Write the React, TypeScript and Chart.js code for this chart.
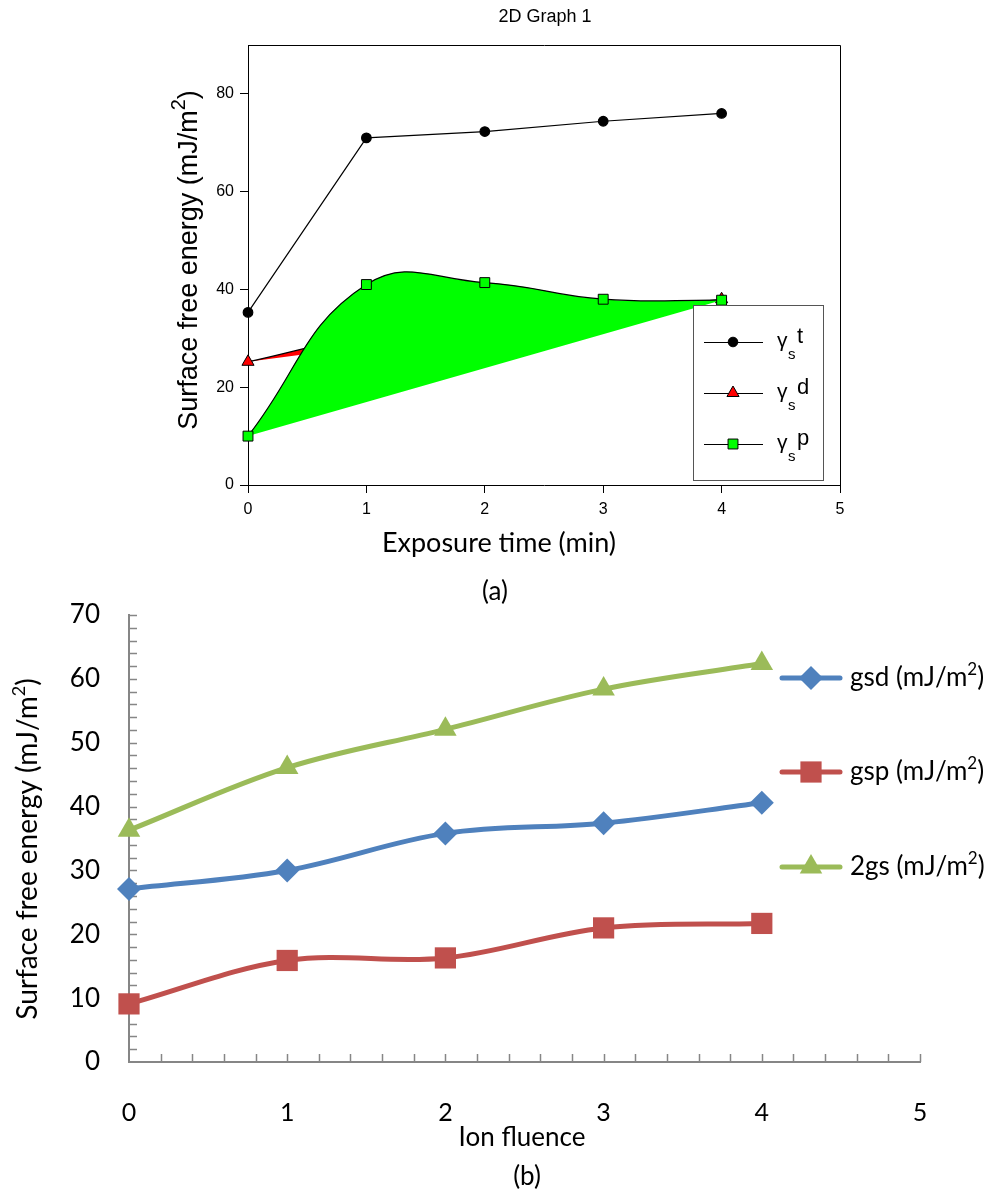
import React, { useEffect, useRef } from 'react';
import { Chart, registerables } from 'chart.js';

Chart.register(...registerables);

// ---------- Chart (a) data ----------
const aTitle = '2D Graph 1';
const aXTitle = 'Exposure time (min)';
const aYTitle = 'Surface free energy (mJ/m';
const aPanel = '(a)';
const timeMin = [0, 1, 2, 3, 4];
const gammaT = [35.3, 71.0, 72.3, 74.4, 76.0];
const gammaD = [25.2, 30.5, 33.0, 35.5, 38.0];
const gammaP = [10.0, 41.0, 41.4, 38.0, 37.8];
const aXTicks = [0, 1, 2, 3, 4, 5];
const aYTicks = [0, 20, 40, 60, 80];
const aLegendSup = ['t', 'd', 'p'];

// ---------- Chart (b) data ----------
const bXTitle = 'Ion fluence';
const bYTitle = 'Surface free energy (mJ/m';
const bPanel = '(b)';
const fluence = [0, 1, 2, 3, 4];
const gsd = [27.1, 30.0, 35.8, 37.4, 40.6];
const gsp = [9.1, 15.9, 16.3, 21.0, 21.7];
const gs2 = [36.3, 46.1, 52.1, 58.4, 62.4];
const bSeriesNames = ['gsd', 'gsp', '2gs'];
const bXTicks = [0, 1, 2, 3, 4, 5];
const bYTicks = [0, 10, 20, 30, 40, 50, 60, 70];
const bXMinorStep = 0.2;
const bYMinorStep = 2;

const toPts = (xs: number[], ys: number[]) => xs.map((x, i) => ({ x, y: ys[i] }));
const chord = (xs: number[], ys: number[]) => [
  { x: xs[0], y: ys[0] },
  { x: xs[xs.length - 1], y: ys[ys.length - 1] },
];

type Seg = { t: string; font: string; dy?: number };
function drawRich(
  ctx: CanvasRenderingContext2D,
  segs: Seg[],
  x: number,
  y: number,
  align: 'left' | 'center',
  rotate = 0,
  color = '#000'
) {
  ctx.save();
  ctx.translate(x, y);
  if (rotate) ctx.rotate(rotate);
  ctx.textBaseline = 'alphabetic';
  ctx.textAlign = 'left';
  ctx.fillStyle = color;
  let total = 0;
  const widths = segs.map((s) => {
    ctx.font = s.font;
    const w = ctx.measureText(s.t).width;
    total += w;
    return w;
  });
  let cx = align === 'center' ? -total / 2 : 0;
  segs.forEach((s, i) => {
    ctx.font = s.font;
    ctx.fillText(s.t, cx, s.dy || 0);
    cx += widths[i];
  });
  ctx.restore();
}

function drawMarker(
  ctx: CanvasRenderingContext2D,
  style: string,
  x: number,
  y: number,
  r: number,
  fill: string,
  stroke: string | null,
  lw = 1
) {
  ctx.save();
  ctx.beginPath();
  if (style === 'circle') {
    ctx.arc(x, y, r, 0, Math.PI * 2);
  } else if (style === 'rect') {
    const s = r * Math.SQRT1_2;
    ctx.rect(x - s, y - s, 2 * s, 2 * s);
  } else if (style === 'rectRot') {
    ctx.moveTo(x - r, y);
    ctx.lineTo(x, y - r);
    ctx.lineTo(x + r, y);
    ctx.lineTo(x, y + r);
    ctx.closePath();
  } else if (style === 'triangle') {
    ctx.moveTo(x, y - r);
    ctx.lineTo(x + r * Math.sin((2 * Math.PI) / 3), y - r * Math.cos((2 * Math.PI) / 3));
    ctx.lineTo(x + r * Math.sin((4 * Math.PI) / 3), y - r * Math.cos((4 * Math.PI) / 3));
    ctx.closePath();
  }
  ctx.fillStyle = fill;
  ctx.fill();
  if (stroke) {
    ctx.lineWidth = lw;
    ctx.strokeStyle = stroke;
    ctx.stroke();
  }
  ctx.restore();
}

const ARIAL = '"Liberation Sans", Arial, sans-serif';
const CALIBRI = 'Lato, "Open Sans", sans-serif';

function ChartA() {
  const ref = useRef<HTMLCanvasElement>(null);
  useEffect(() => {
    const canvas = ref.current!;
    const aMarkers = [
      { style: 'circle', r: 4.8, fill: '#000000' },
      { style: 'triangle', r: 7, fill: '#ff0000' },
      { style: 'rect', r: 7, fill: '#00ff00' },
    ];
    const decor = {
      id: 'decorA',
      afterDraw(chart: any) {
        const ctx = chart.ctx as CanvasRenderingContext2D;
        const a = chart.chartArea;
        // frame top and right
        ctx.save();
        ctx.strokeStyle = '#000';
        ctx.lineWidth = 1;
        ctx.beginPath();
        ctx.moveTo(Math.round(a.left) + 0.5, Math.round(a.top) + 0.5);
        ctx.lineTo(Math.round(a.right) + 0.5, Math.round(a.top) + 0.5);
        ctx.lineTo(Math.round(a.right) + 0.5, Math.round(a.bottom) + 0.5);
        ctx.stroke();
        ctx.restore();
        // title
        drawRich(ctx, [{ t: aTitle, font: `18px ${ARIAL}` }], 545, 22, 'center');
        // y title
        drawRich(
          ctx,
          [
            { t: aYTitle, font: `27px ${ARIAL}` },
            { t: '2', font: `20px ${ARIAL}`, dy: -12 },
            { t: ')', font: `27px ${ARIAL}` },
          ],
          197,
          260,
          'center',
          -Math.PI / 2
        );
        // x title
        drawRich(ctx, [{ t: aXTitle, font: `27px ${CALIBRI}` }], 499, 552, 'center');
        drawRich(ctx, [{ t: aPanel, font: `26px ${CALIBRI}` }], 495, 600, 'center');
        // legend box
        ctx.save();
        ctx.fillStyle = '#ffffff';
        ctx.fillRect(693.5, 305.5, 130, 175);
        ctx.strokeStyle = '#555555';
        ctx.lineWidth = 1;
        ctx.strokeRect(693.5, 305.5, 130, 175);
        ctx.restore();
        const rows = [342, 393, 444];
        rows.forEach((L, i) => {
          ctx.save();
          ctx.strokeStyle = '#000';
          ctx.lineWidth = 1.2;
          ctx.beginPath();
          ctx.moveTo(704, L + 0.5);
          ctx.lineTo(763, L + 0.5);
          ctx.stroke();
          ctx.restore();
          const m = aMarkers[i];
          drawMarker(ctx, m.style, 733, L, m.r, m.fill, '#000', 1);
          drawRich(ctx, [{ t: 'γ', font: `21px ${ARIAL}` }], 777, L + 5, 'left');
          drawRich(ctx, [{ t: 's', font: `15px ${ARIAL}` }], 788, L + 17, 'left');
          drawRich(ctx, [{ t: aLegendSup[i], font: `22px ${ARIAL}` }], 797, L + 1, 'left');
        });
      },
    };
    const chart = new Chart(canvas, {
      type: 'line',
      data: {
        datasets: [
          {
            label: 'γs t',
            data: toPts(timeMin, gammaT),
            borderColor: '#000000',
            borderWidth: 1.2,
            backgroundColor: '#000000',
            pointStyle: 'circle',
            pointRadius: 4.8,
            pointBackgroundColor: '#000000',
            pointBorderColor: '#000000',
            tension: 0,
            fill: false,
            order: 0,
            clip: false,
          },
          {
            label: 'γs p',
            data: toPts(timeMin, gammaP),
            borderColor: '#000000',
            borderWidth: 1.2,
            backgroundColor: '#00ff00',
            fill: { target: 3 },
            tension: 0.44,
            pointStyle: 'rect',
            pointRadius: 7,
            pointBackgroundColor: '#00ff00',
            pointBorderColor: '#000000',
            pointBorderWidth: 1,
            order: 1,
            clip: false,
          },
          {
            label: 'γs d',
            data: toPts(timeMin, gammaD),
            borderColor: '#000000',
            borderWidth: 1.2,
            backgroundColor: '#ff0000',
            fill: { target: 4 },
            tension: 0.44,
            pointStyle: 'triangle',
            pointRadius: 7,
            pointBackgroundColor: '#ff0000',
            pointBorderColor: '#000000',
            pointBorderWidth: 1,
            order: 2,
            clip: false,
          },
          {
            label: 'p base',
            data: chord(timeMin, gammaP),
            borderColor: 'rgba(0,0,0,0)',
            borderWidth: 0,
            pointRadius: 0,
            fill: false,
            order: 3,
          },
          {
            label: 'd base',
            data: chord(timeMin, gammaD),
            borderColor: 'rgba(0,0,0,0)',
            borderWidth: 0,
            pointRadius: 0,
            fill: false,
            order: 4,
          },
        ],
      },
      options: {
        responsive: false,
        animation: false,
        events: [],
        layout: { padding: { left: 0, right: 160, top: 45, bottom: 0 } },
        plugins: { legend: { display: false }, tooltip: { enabled: false }, title: { display: false } },
        scales: {
          x: {
            type: 'linear',
            min: 0,
            max: 5,
            afterBuildTicks: (s: any) => {
              s.ticks = aXTicks.map((v) => ({ value: v }));
            },
            afterFit: (s: any) => {
              s.height = 135;
              s.paddingLeft = 0;
              s.paddingRight = 0;
            },
            grid: { display: true, drawOnChartArea: false, drawTicks: true, tickLength: 8, color: '#000', lineWidth: 1 },
            border: { display: true, color: '#000', width: 1 },
            ticks: { color: '#000', font: { family: ARIAL, size: 16 }, padding: 7, maxRotation: 0, autoSkip: false },
          },
          y: {
            type: 'linear',
            min: 0,
            max: 90,
            afterBuildTicks: (s: any) => {
              s.ticks = aYTicks.map((v) => ({ value: v }));
            },
            afterFit: (s: any) => {
              s.width = 248;
              s.paddingTop = 0;
              s.paddingBottom = 0;
            },
            grid: { display: true, drawOnChartArea: false, drawTicks: true, tickLength: 8, color: '#000', lineWidth: 1 },
            border: { display: true, color: '#000', width: 1 },
            ticks: { color: '#000', font: { family: ARIAL, size: 16 }, padding: 6, autoSkip: false },
          },
        },
      },
      plugins: [decor],
    } as any);
    return () => chart.destroy();
  }, []);
  return (
    <canvas
      ref={ref}
      width={1000}
      height={620}
      style={{ position: 'absolute', left: 0, top: 0, width: 1000, height: 620 }}
    />
  );
}

function ChartB() {
  const ref = useRef<HTMLCanvasElement>(null);
  useEffect(() => {
    const canvas = ref.current!;
    const colors = ['#4f81bd', '#c0504d', '#9bbb59'];
    const styles = ['rectRot', 'rect', 'triangle'];
    const radii = [12, 15, 13];
    const axisGray = '#868686';
    const decor = {
      id: 'decorB',
      beforeDatasetsDraw(chart: any) {
        const ctx = chart.ctx as CanvasRenderingContext2D;
        const xs = chart.scales.x;
        const ys = chart.scales.y;
        const a = chart.chartArea;
        ctx.save();
        ctx.strokeStyle = axisGray;
        ctx.lineWidth = 1.5;
        ctx.beginPath();
        for (let v = bYMinorStep; v <= bYTicks[bYTicks.length - 1] + 1e-9; v += bYMinorStep) {
          const py = Math.round(ys.getPixelForValue(v)) + 0.5;
          ctx.moveTo(a.left, py);
          ctx.lineTo(a.left + 8, py);
        }
        for (let v = bXMinorStep; v <= bXTicks[bXTicks.length - 1] + 1e-9; v += bXMinorStep) {
          const px = Math.round(xs.getPixelForValue(v)) + 0.5;
          ctx.moveTo(px, a.bottom);
          ctx.lineTo(px, a.bottom - 8);
        }
        ctx.stroke();
        ctx.restore();
      },
      afterDraw(chart: any) {
        const ctx = chart.ctx as CanvasRenderingContext2D;
        // y title
        drawRich(
          ctx,
          [
            { t: bYTitle, font: `28px ${CALIBRI}` },
            { t: '2', font: `18px ${CALIBRI}`, dy: -12 },
            { t: ')', font: `28px ${CALIBRI}` },
          ],
          37,
          249,
          'center',
          -Math.PI / 2
        );
        drawRich(ctx, [{ t: bXTitle, font: `26px ${CALIBRI}` }], 522, 546, 'center');
        drawRich(ctx, [{ t: bPanel, font: `26px ${CALIBRI}` }], 527, 585, 'center');
        // legend
        const rows = [78, 172, 267];
        rows.forEach((L, i) => {
          ctx.save();
          ctx.strokeStyle = colors[i];
          ctx.lineWidth = 5;
          ctx.lineCap = 'round';
          ctx.beginPath();
          ctx.moveTo(782, L);
          ctx.lineTo(840, L);
          ctx.stroke();
          ctx.restore();
          drawMarker(ctx, styles[i], 811, L, radii[i], colors[i], null);
          drawRich(
            ctx,
            [
              { t: `${bSeriesNames[i]} (mJ/m`, font: `26px ${CALIBRI}` },
              { t: '2', font: `17px ${CALIBRI}`, dy: -11 },
              { t: ')', font: `26px ${CALIBRI}` },
            ],
            850,
            L + 8,
            'left'
          );
        });
      },
    };
    const series = [gsd, gsp, gs2];
    const chart = new Chart(canvas, {
      type: 'line',
      data: {
        datasets: series.map((vals, i) => ({
          label: bSeriesNames[i],
          data: toPts(fluence, vals),
          borderColor: colors[i],
          backgroundColor: colors[i],
          borderWidth: 5,
          tension: 0.35,
          pointStyle: styles[i],
          pointRadius: radii[i],
          pointBackgroundColor: colors[i],
          pointBorderColor: colors[i],
          pointBorderWidth: 0,
          fill: false,
          clip: false,
        })),
      },
      options: {
        responsive: false,
        animation: false,
        events: [],
        layout: { padding: { left: 0, right: 80, top: 8, bottom: 0 } },
        plugins: { legend: { display: false }, tooltip: { enabled: false }, title: { display: false } },
        scales: {
          x: {
            type: 'linear',
            min: 0,
            max: 5,
            afterBuildTicks: (s: any) => {
              s.ticks = bXTicks.map((v) => ({ value: v }));
            },
            afterFit: (s: any) => {
              s.height = 134;
              s.paddingLeft = 0;
              s.paddingRight = 0;
            },
            grid: { display: false, drawTicks: false },
            border: { display: true, color: axisGray, width: 2 },
            ticks: { color: '#000', font: { family: CALIBRI, size: 25 }, padding: 36, maxRotation: 0, autoSkip: false },
          },
          y: {
            type: 'linear',
            min: 0,
            max: 70,
            afterBuildTicks: (s: any) => {
              s.ticks = bYTicks.map((v) => ({ value: v }));
            },
            afterFit: (s: any) => {
              s.width = 129;
              s.paddingTop = 0;
              s.paddingBottom = 0;
            },
            grid: { display: false, drawTicks: false },
            border: { display: true, color: axisGray, width: 2 },
            ticks: { color: '#000', font: { family: CALIBRI, size: 26 }, padding: 29, autoSkip: false },
          },
        },
      },
      plugins: [decor],
    } as any);
    return () => chart.destroy();
  }, []);
  return (
    <canvas
      ref={ref}
      width={1000}
      height={596}
      style={{ position: 'absolute', left: 0, top: 600, width: 1000, height: 596 }}
    />
  );
}

export default function App() {
  return (
    <div style={{ position: 'absolute', left: 0, top: 0, width: 1000, height: 1196, background: '#ffffff' }}>
      <ChartA />
      <ChartB />
    </div>
  );
}
